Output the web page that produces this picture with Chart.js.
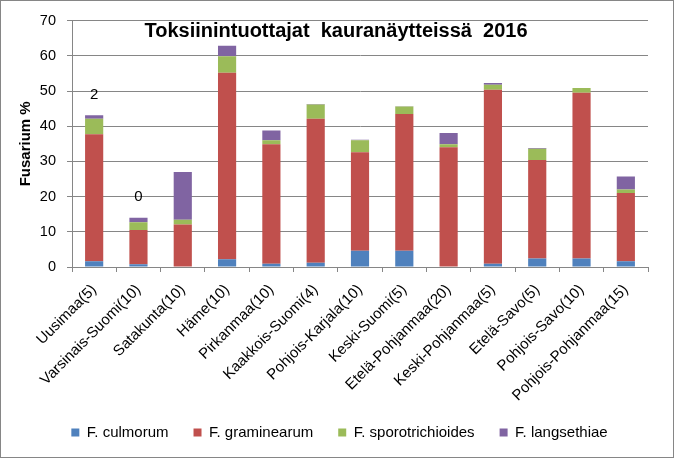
<!DOCTYPE html>
<html><head><meta charset="utf-8">
<script src="https://cdn.jsdelivr.net/npm/chart.js@4/dist/chart.umd.min.js"></script>
<style>
html,body{margin:0;padding:0;background:#fff;}
#wrap{width:672px;height:456px;border:1px solid #868686;position:relative;}
canvas{display:block;}
</style></head><body>
<div id="wrap"><canvas id="c" width="672" height="456"></canvas></div>
<script>
const categories = ['Uusimaa(5)','Varsinais-Suomi(10)','Satakunta(10)','Häme(10)','Pirkanmaa(10)','Kaakkois-Suomi(4)','Pohjois-Karjala(10)','Keski-Suomi(5)','Etelä-Pohjanmaa(20)','Keski-Pohjanmaa(5)','Etelä-Savo(5)','Pohjois-Savo(10)','Pohjois-Pohjanmaa(15)'];
const culmorum      = [1.6, 0.8, 0.0, 2.2, 0.9, 1.2, 4.6, 4.6, 0.0, 0.9, 2.4, 2.4, 1.6];
const graminearum   = [36.1, 9.7, 12.1, 53.0, 34.0, 40.9, 28.0, 38.9, 34.0, 49.5, 28.0, 47.1, 19.4];
const sporotrichioides = [4.4, 2.2, 1.3, 4.7, 1.1, 4.1, 3.4, 2.1, 0.9, 1.4, 3.2, 1.4, 1.0];
const langsethiae   = [1.0, 1.3, 13.6, 3.0, 2.8, 0.1, 0.2, 0.1, 3.2, 0.5, 0.2, 0.0, 3.7];
const topLabels = ['2','0','','','','','','','','','','',''];
const yTicks = [0,10,20,30,40,50,60,70];
const titleText = 'Toksiinintuottajat  kauranäytteissä  2016';
const FONT = "'Liberation Sans', Arial, sans-serif";
const PAD_BOTTOM = 7;

const overlay = {
  id:'overlay',
  afterLayout(chart){
    chart.legend.left += 9; chart.legend.right += 9;
    chart.scales.x.bottom = chart.height;
  },
  afterDatasetsDraw(chart){
    const ctx = chart.ctx, xs = chart.scales.x, ys = chart.scales.y;
    ctx.save();
    ctx.fillStyle = '#000';
    ctx.font = '15px ' + FONT;
    ctx.textAlign = 'center';
    ctx.textBaseline = 'bottom';
    topLabels.forEach((t,i)=>{
      if(!t) return;
      const tot = culmorum[i]+graminearum[i]+sporotrichioides[i]+langsethiae[i];
      ctx.fillText(t, xs.getPixelForValue(i), ys.getPixelForValue(tot) - 13);
    });
    ctx.font = 'bold 20px ' + FONT;
    ctx.textBaseline = 'middle';
    ctx.fillText(titleText, 335, ys.getPixelForValue(67.0));
    ctx.restore();
  }
};

new Chart(document.getElementById('c'), {
  type:'bar',
  data:{
    labels: categories,
    datasets:[
      {label:'F. culmorum', data: culmorum, backgroundColor:'#4F81BD'},
      {label:'F. graminearum', data: graminearum, backgroundColor:'#C0504D'},
      {label:'F. sporotrichioides', data: sporotrichioides, backgroundColor:'#9BBB59'},
      {label:'F. langsethiae', data: langsethiae, backgroundColor:'#8064A2'}
    ]
  },
  options:{
    responsive:false,
    animation:false,
    devicePixelRatio:1,
    layout:{padding:{top:15,right:25,left:12,bottom:PAD_BOTTOM}},
    datasets:{bar:{barPercentage:0.41,categoryPercentage:1.0,borderWidth:0}},
    plugins:{
      legend:{position:'bottom',labels:{font:{family:FONT,size:15},color:'#000',boxWidth:8,boxHeight:8,padding:25}},
      title:{display:false},
      tooltip:{enabled:false}
    },
    scales:{
      x:{stacked:true,
        afterFit(ax){ ax.height = 456 - PAD_BOTTOM - ax.chart.legend.height - 266; },
        grid:{display:true,drawOnChartArea:false,color:'#868686',tickLength:5,offset:true},
        border:{color:'#868686'},
        ticks:{color:'#000',font:{family:FONT,size:15},maxRotation:45,minRotation:45,autoSkip:false,padding:9}
      },
      y:{stacked:true,min:0,max:70,
        afterBuildTicks(ax){ax.ticks = yTicks.map(v=>({value:v}));},
        afterFit(ax){ ax.width = 71 - 12; },
        grid:{color:'#868686',tickLength:5},
        border:{color:'#868686'},
        ticks:{color:'#000',font:{family:FONT,size:14.5},padding:11},
        title:{display:true,text:'Fusarium %',color:'#000',font:{family:FONT,size:15,weight:'bold'},padding:{top:4,bottom:0}}
      }
    }
  },
  plugins:[overlay]
});
</script>
</body></html>
